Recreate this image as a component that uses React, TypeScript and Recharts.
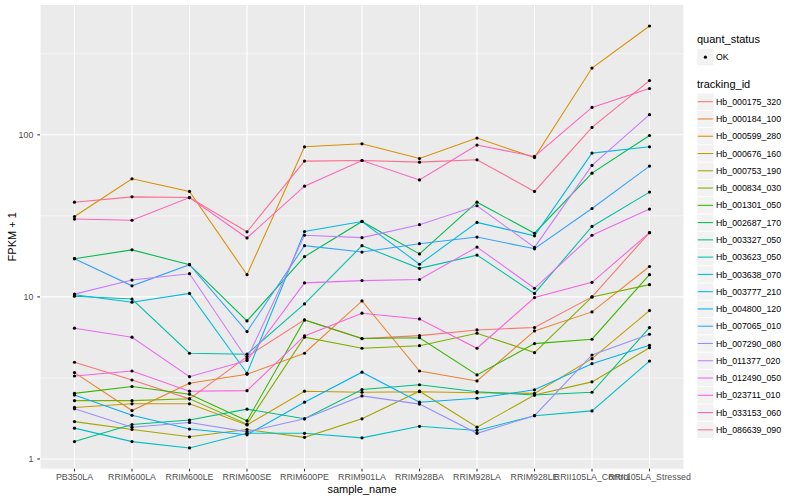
import { LineChart, Line, XAxis, YAxis, CartesianGrid } from 'recharts';

const samples = [
  'PB350LA',
  'RRIM600LA',
  'RRIM600LE',
  'RRIM600SE',
  'RRIM600PE',
  'RRIM901LA',
  'RRIM928BA',
  'RRIM928LA',
  'RRIM928LE',
  'RRII105LA_Control',
  'RRII105LA_Stressed',
];

const trackingIds = [
  'Hb_000175_320',
  'Hb_000184_100',
  'Hb_000599_280',
  'Hb_000676_160',
  'Hb_000753_190',
  'Hb_000834_030',
  'Hb_001301_050',
  'Hb_002687_170',
  'Hb_003327_050',
  'Hb_003623_050',
  'Hb_003638_070',
  'Hb_003777_210',
  'Hb_004800_120',
  'Hb_007065_010',
  'Hb_007290_080',
  'Hb_011377_020',
  'Hb_012490_050',
  'Hb_023711_010',
  'Hb_033153_060',
  'Hb_086639_090',
];

const colors = [
  '#F8766D', '#EA8331', '#D89000', '#C09B00', '#A3A500',
  '#7CAE00', '#39B600', '#00BB4E', '#00BF7D', '#00C1A3',
  '#00BFC4', '#00BAE0', '#00B0F6', '#35A2FF', '#9590FF',
  '#C77CFF', '#E76BF3', '#FA62DB', '#FF62BC', '#FF6C91',
];

// FPKM + 1, one value per sample
const hb000175 = [3.95, 3.07, 2.35, 4.28, 7.21, 5.53, 5.77, 6.25, 6.47, 10.0, 24.9];
const hb000184 = [3.41, 1.99, 2.93, 3.33, 4.49, 9.44, 3.49, 3.03, 6.17, 8.08, 15.4];
const hb000599 = [31.3, 53.5, 44.7, 13.7, 84.3, 88, 71.4, 95.4, 72.4, 258, 469];
const hb000676 = [2.08, 2.19, 2.19, 1.62, 2.62, 2.58, 2.6, 2.56, 2.54, 4.16, 8.23];
const hb000753 = [1.7, 1.52, 1.37, 1.52, 1.36, 1.77, 2.62, 1.57, 2.48, 2.99, 4.86];
const hb000834 = [2.29, 2.29, 2.35, 1.64, 5.64, 4.82, 5.0, 5.97, 4.53, 10.0, 11.9];
const hb001301 = [2.54, 2.8, 2.51, 1.72, 7.2, 5.53, 5.6, 3.3, 5.15, 5.48, 13.7];
const hb002687 = [17.2, 19.5, 15.8, 7.11, 17.7, 29.2, 18.4, 38.4, 24.7, 58.0, 99];
const hb003327 = [1.28, 1.63, 1.74, 2.03, 1.77, 2.68, 2.87, 2.6, 2.48, 2.58, 6.47];
const hb003623 = [10.1, 9.7, 4.49, 4.43, 9.05, 20.7, 15.0, 18.1, 10.5, 27.2, 44.3];
const hb003638 = [1.55, 1.28, 1.17, 1.44, 1.44, 1.35, 1.59, 1.5, 1.85, 1.98, 4.02];
const hb003777 = [10.3, 9.27, 10.5, 3.38, 25.3, 29.2, 15.9, 28.8, 23.8, 77.1, 84.3];
const hb004800 = [2.48, 1.86, 1.53, 1.41, 2.24, 3.43, 2.24, 2.37, 2.67, 3.87, 5.03];
const hb007065 = [17.2, 11.7, 15.8, 6.11, 20.7, 18.9, 21.3, 23.4, 19.8, 35.1, 64.1];
const hb007290 = [2.04, 1.57, 1.68, 1.47, 1.77, 2.45, 2.18, 1.44, 1.85, 4.38, 5.88];
const hb011377 = [10.4, 12.7, 13.9, 4.14, 24.0, 23.2, 27.9, 36.5, 20.2, 64.7, 133];
const hb012490 = [6.41, 5.64, 3.22, 4.05, 12.2, 12.6, 12.8, 20.3, 11.3, 24.0, 34.8];
const hb023711 = [3.25, 3.49, 2.62, 2.64, 5.74, 7.93, 7.31, 4.82, 9.9, 12.3, 24.9];
const hb033153 = [30.2, 29.7, 41.0, 23.1, 48.2, 69.4, 52.7, 86.4, 73.5, 147.5, 193];
const hb086639 = [38.4, 41.4, 41.0, 25.2, 68.8, 69.4, 67.8, 70.1, 44.7, 111, 216];

const seriesValues = [
  hb000175, hb000184, hb000599, hb000676, hb000753,
  hb000834, hb001301, hb002687, hb003327, hb003623,
  hb003638, hb003777, hb004800, hb007065, hb007290,
  hb011377, hb012490, hb023711, hb033153, hb086639,
];

const majorTicks = [1, 10, 100];
const minorTicks = [3.1623, 31.623, 316.23];

const rows = samples.map((sample, i) => {
  const row: Record<string, number | string> = { sample };
  trackingIds.forEach((id, k) => {
    row[id] = seriesValues[k][i];
  });
  return row;
});

const font = '"Liberation Sans", Arial, Helvetica, sans-serif';

const App = () => {
  return (
    <div style={{ position: 'absolute', left: 0, top: 0, width: 800, height: 500, background: '#fff', fontFamily: font }}>
      <LineChart
        width={800}
        height={500}
        data={rows}
        margin={{ top: 5, right: 116, bottom: 0, left: 0 }}
      >
        <CartesianGrid
          fill="#EBEBEB"
          stroke="#FFFFFF"
          strokeWidth={0.55}
          vertical={false}
          horizontalValues={minorTicks}
        />
        <CartesianGrid stroke="#FFFFFF" strokeWidth={1.07} horizontalValues={majorTicks} />
        <XAxis
          dataKey="sample"
          interval={0}
          padding={{ left: 34.5, right: 34.5 }}
          height={31.3}
          axisLine={false}
          tickSize={2.7}
          tickMargin={2.2}
          tickLine={{ stroke: '#333333', strokeWidth: 1.07 }}
          tick={{ fontSize: 8.8, fill: '#4D4D4D', fontFamily: font }}
        />
        <YAxis
          scale="log"
          type="number"
          domain={[0.871, 632]}
          allowDataOverflow
          ticks={majorTicks}
          interval={0}
          width={40}
          axisLine={false}
          tickSize={2.7}
          tickMargin={4}
          tickLine={{ stroke: '#333333', strokeWidth: 1.07 }}
          tick={{ fontSize: 8.8, fill: '#4D4D4D', fontFamily: font }}
        />
        {trackingIds.map((id, k) => (
          <Line
            key={id}
            dataKey={id}
            type="linear"
            stroke={colors[k]}
            strokeWidth={1.07}
            dot={false}
            activeDot={false}
            isAnimationActive={false}
          />
        ))}
        {trackingIds.map((id) => (
          <Line
            key={id + '-pt'}
            dataKey={id}
            type="linear"
            stroke="none"
            strokeWidth={0}
            dot={{ r: 1.6, fill: '#000000', stroke: 'none', strokeWidth: 0 }}
            activeDot={false}
            isAnimationActive={false}
          />
        ))}
      </LineChart>
      <svg
        width={800}
        height={500}
        style={{ position: 'absolute', left: 0, top: 0, pointerEvents: 'none' }}
      >
        <text x={362} y={493} textAnchor="middle" fontSize={11} fill="#000" fontFamily={font}>
          sample_name
        </text>
        <text
          x={16}
          y={236.8}
          textAnchor="middle"
          fontSize={11}
          fill="#000"
          fontFamily={font}
          transform="rotate(-90 16 236.8)"
        >
          FPKM + 1
        </text>
        <text x={697} y={43.3} fontSize={11} fill="#000" fontFamily={font}>
          quant_status
        </text>
        <rect x={697.3} y={49} width={16.3} height={16.3} fill="#F2F2F2" />
        <circle cx={705.4} cy={57.2} r={1.6} fill="#000" />
        <text x={716} y={60.3} fontSize={8.8} fill="#000" fontFamily={font}>
          OK
        </text>
        <text x={697} y={87.7} fontSize={11} fill="#000" fontFamily={font}>
          tracking_id
        </text>
        {trackingIds.map((id, k) => {
          const cy = 101.7 + 17.27 * k;
          return (
            <g key={id}>
              <rect x={697.3} y={cy - 8.15} width={16.3} height={16.3} fill="#F2F2F2" />
              <line x1={697.8} x2={713.1} y1={cy} y2={cy} stroke={colors[k]} strokeWidth={1.07} />
              <text x={716} y={cy + 3.1} fontSize={8.8} fill="#000" fontFamily={font}>
                {id}
              </text>
            </g>
          );
        })}
      </svg>
    </div>
  );
};

export default App;
